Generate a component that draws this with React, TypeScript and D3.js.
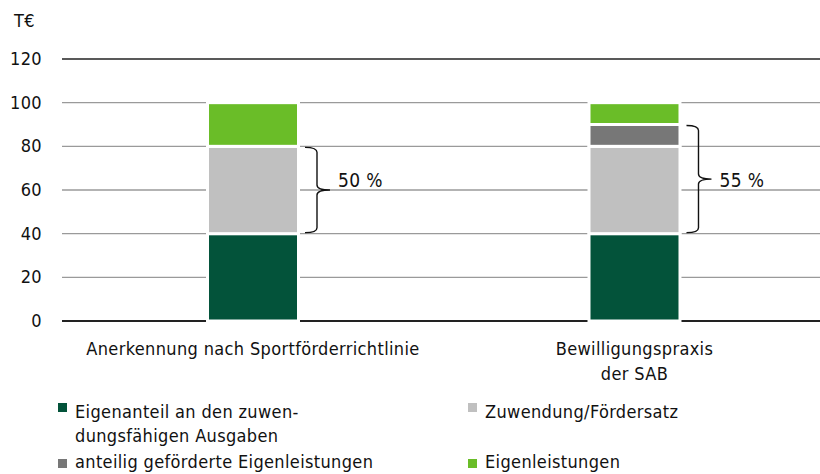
import React from "react";
import * as d3 from "d3";

const categories = ["Anerkennung nach Sportförderrichtlinie", "Bewilligungspraxis der SAB"];
const categoryLines = [["Anerkennung nach Sportförderrichtlinie"], ["Bewilligungspraxis", "der SAB"]];
const seriesNames = [
  "Eigenanteil an den zuwendungsfähigen Ausgaben",
  "Zuwendung/Fördersatz",
  "anteilig geförderte Eigenleistungen",
  "Eigenleistungen",
];
const eigenanteil = [40, 40];
const zuwendung = [40, 40];
const anteiligEigen = [0, 10];
const eigenleistungen = [20, 10];
const braceLabels = ["50 %", "55 %"];
const yTicks = [0, 20, 40, 60, 80, 100, 120];
const colors = ["#03533a", "#c0c0c0", "#777777", "#6abd28"];

const W = 820;
const H = 474;
const FONT = "'DejaVu Sans Condensed', 'Liberation Sans Narrow', sans-serif";

export default function App() {
  const x = d3
    .scaleBand<string>()
    .domain(categories)
    .range([67.5, 820])
    .paddingInner(0.7615)
    .paddingOuter(0.367);
  const y = d3.scaleLinear().domain([0, 120]).range([321, 59]);

  const rows = categories.map((c, i) => ({
    cat: c,
    values: [eigenanteil[i], zuwendung[i], anteiligEigen[i], eigenleistungen[i]],
  }));
  const stack = d3.stack<any>().keys(["0", "1", "2", "3"]).value((d, k) => d.values[+k]);
  const series = stack(rows);

  const bw = x.bandwidth();

  return (
    <svg
      width={W}
      height={H}
      style={{ position: "absolute", left: 0, top: 0, fontFamily: FONT, letterSpacing: "0.35px" }}
    >
      <text x={14} y={27} fontSize={18} fill="#111">T€</text>
      {yTicks.map((t) => (
        <g key={t}>
          <line
            x1={62}
            x2={820}
            y1={y(t)}
            y2={y(t)}
            stroke={t === 0 || t === 120 ? "#222" : "#9a9a9a"}
            strokeWidth={t === 0 ? 2 : 1.4}
          />
          <text x={42} y={y(t) + 6} fontSize={18} textAnchor="end" fill="#111">{t}</text>
        </g>
      ))}
      {series.map((s, si) =>
        s.map((d, i) =>
          d[1] - d[0] > 0 ? (
            <rect
              key={si + "-" + i}
              x={x(categories[i])!}
              y={y(d[1])}
              width={bw}
              height={y(d[0]) - y(d[1])}
              fill={colors[si]}
              stroke="#fff"
              strokeWidth={3}
            />
          ) : null
        )
      )}
      {categories.map((c, i) => {
        const top = y(eigenanteil[i] + zuwendung[i] + anteiligEigen[i]);
        const bot = y(eigenanteil[i]);
        const x0 = x(c)! + bw - 1.5 + 8;
        const xv = x0 + 12;
        const mid = (top + bot) / 2;
        const path = `M${x0},${top + 1} Q${xv},${top + 1} ${xv},${top + 6} L${xv},${mid - 5} Q${xv},${mid} ${xv + 13},${mid} Q${xv},${mid} ${xv},${mid + 5} L${xv},${bot - 6} Q${xv},${bot - 1} ${x0},${bot - 1}`;
        return (
          <g key={c}>
            <path d={path} fill="none" stroke="#111" strokeWidth={1.4} />
            <text x={x(c)! + bw - 1.5 + 41} y={y(61.5)} fontSize={19} fill="#111">{braceLabels[i]}</text>
          </g>
        );
      })}
      {categories.map((c, i) => (
        <text key={c} x={x(c)! + bw / 2} y={355} fontSize={18} textAnchor="middle" fill="#111">
          {categoryLines[i].map((l, j) => (
            <tspan key={j} x={x(c)! + bw / 2} dy={j === 0 ? 0 : 25}>{l}</tspan>
          ))}
        </text>
      ))}
      {/* legend */}
      <g fontSize={18} fill="#111">
        <rect x={58} y={403} width={9} height={9} fill={colors[0]} />
        <text x={75} y={418}>
          <tspan x={75}>Eigenanteil an den zuwen-</tspan>
          <tspan x={75} dy={24}>dungsfähigen Ausgaben</tspan>
        </text>
        <rect x={468} y={403} width={9} height={9} fill={colors[1]} />
        <text x={485} y={418}>{seriesNames[1]}</text>
        <rect x={58} y={459} width={9} height={9} fill={colors[2]} />
        <text x={75} y={468}>{seriesNames[2]}</text>
        <rect x={468} y={459} width={9} height={9} fill={colors[3]} />
        <text x={485} y={468}>{seriesNames[3]}</text>
      </g>
    </svg>
  );
}
